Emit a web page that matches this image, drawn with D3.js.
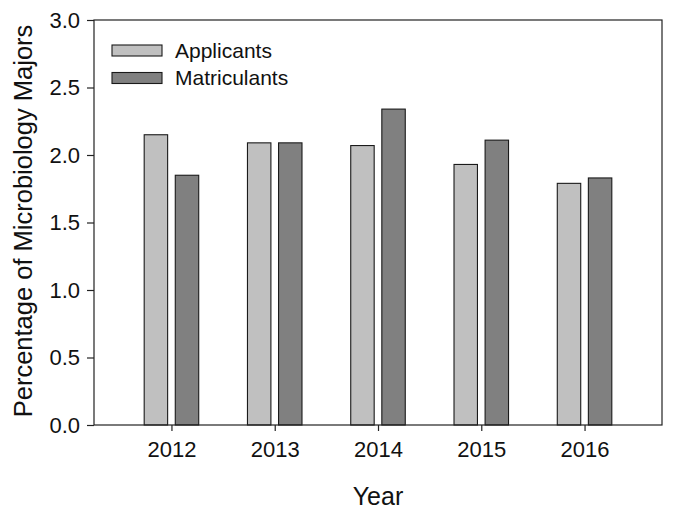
<!DOCTYPE html>
<html>
<head>
<meta charset="utf-8">
<script src="https://cdn.jsdelivr.net/npm/d3@7"></script>
<style>
  body { margin: 0; background: #fff; }
  text { font-family: Arial, "Liberation Sans", sans-serif; fill: #111; }
</style>
</head>
<body>
<div id="chart"></div>
<script>
const years = [2012, 2013, 2014, 2015, 2016];
const applicants = [2.15, 2.09, 2.07, 1.93, 1.79];
const matriculants = [1.85, 2.09, 2.34, 2.11, 1.83];
const yTicks = [0.0, 0.5, 1.0, 1.5, 2.0, 2.5, 3.0];
const seriesNames = ["Applicants", "Matriculants"];
const seriesColors = ["#c0c0c0", "#808080"];

const width = 675, height = 517;
const margin = {top: 20, right: 13, bottom: 92, left: 94};

const svg = d3.select("#chart").append("svg")
  .attr("width", width)
  .attr("height", height);

const x = d3.scaleLinear()
  .domain([2011.25, 2016.75])
  .range([margin.left, width - margin.right]);

const y = d3.scaleLinear()
  .domain([0, 3])
  .range([height - margin.bottom, margin.top]);

const barW = 0.227;   // bar width in year units
const halfGap = 0.037;

const rows = years.map((yr, i) => ({year: yr, values: [applicants[i], matriculants[i]]}));

// bars
const g = svg.append("g");
rows.forEach(r => {
  r.values.forEach((v, s) => {
    const x0 = s === 0 ? r.year - halfGap - barW : r.year + halfGap;
    g.append("rect")
      .attr("x", x(x0))
      .attr("y", y(v))
      .attr("width", x(x0 + barW) - x(x0))
      .attr("height", y(0) - y(v))
      .attr("fill", seriesColors[s])
      .attr("stroke", "#1a1a1a")
      .attr("stroke-width", 1.1);
  });
});

// frame
svg.append("rect")
  .attr("x", margin.left)
  .attr("y", margin.top)
  .attr("width", width - margin.left - margin.right)
  .attr("height", height - margin.top - margin.bottom)
  .attr("fill", "none")
  .attr("stroke", "#222")
  .attr("stroke-width", 1.2);

// axes
const xAxis = d3.axisBottom(x).tickValues(years).tickFormat(d3.format("d")).tickSize(6).tickPadding(10);
svg.append("g")
  .attr("transform", `translate(0, ${height - margin.bottom})`)
  .call(xAxis)
  .call(sel => sel.select(".domain").remove())
  .call(sel => sel.selectAll(".tick line").attr("stroke", "#222").attr("stroke-width", 1.2))
  .call(sel => sel.selectAll(".tick text").style("font-size", "22px").attr("fill", "#111"));

const yAxis = d3.axisLeft(y).tickValues(yTicks).tickFormat(d3.format(".1f")).tickSize(7).tickPadding(7);
svg.append("g")
  .attr("transform", `translate(${margin.left}, 0)`)
  .call(yAxis)
  .call(sel => sel.select(".domain").remove())
  .call(sel => sel.selectAll(".tick line").attr("stroke", "#222").attr("stroke-width", 1.2))
  .call(sel => sel.selectAll(".tick text").style("font-size", "22px").attr("fill", "#111"));

// axis titles
svg.append("text")
  .text("Year")
  .attr("x", (margin.left + width - margin.right) / 2)
  .attr("y", 505)
  .attr("text-anchor", "middle")
  .style("font-size", "25px");

svg.append("text")
  .text("Percentage of Microbiology Majors")
  .attr("text-anchor", "middle")
  .attr("transform", `translate(32, 221) rotate(-90)`)
  .style("font-size", "25.5px");

// legend
const legend = svg.append("g");
seriesNames.forEach((name, i) => {
  const ly = 45 + i * 27.5;
  legend.append("rect")
    .attr("x", 112)
    .attr("y", ly)
    .attr("width", 50)
    .attr("height", 11)
    .attr("fill", seriesColors[i])
    .attr("stroke", "#1a1a1a")
    .attr("stroke-width", 1.1);
  legend.append("text")
    .text(name)
    .attr("x", 175)
    .attr("y", ly + 12.5)
    .style("font-size", "21px");
});
</script>
</body>
</html>
